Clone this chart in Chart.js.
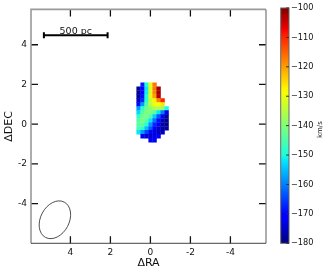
<!DOCTYPE html>
<html><head><meta charset="utf-8">
<script src="https://cdn.jsdelivr.net/npm/chart.js@4"></script>
<style>
html,body{margin:0;padding:0;background:#fff;width:330px;height:274px;overflow:hidden}
canvas{position:absolute}
</style></head><body>
<canvas id="m" width="275" height="274" style="left:0;top:0;width:275px;height:274px"></canvas>
<canvas id="c" width="55" height="274" style="left:275px;top:0;width:55px;height:274px"></canvas>
<script>
const xTicks=[4,2,0,-2,-4];
const yTicks=[4,2,0,-2,-4];
const cbTicks=[-100,-110,-120,-130,-140,-150,-160,-170,-180];
const colX=[0.59,0.39,0.19,-0.01,-0.21,-0.41,-0.61,-0.81];
const rowY=[1.99,1.79,1.59,1.39,1.19,0.99,0.79,0.59,0.39,0.19,-0.01,-0.21,-0.41,-0.61,-0.81];
const vel=[
[null,-168,-150,-130,-117,null,null,null],
[-178,-170,-152,-131,-117,-102,null,null],
[-178,-170,-151,-131,-118,-102,null,null],
[-178,-169,-150,-131,-120,-103,null,null],
[-176,-167,-149,-133,-127,-118,-110,null],
[-170,-158,-145,-135,-130,-129,-126,null],
[-158,-149,-142,-139,-136,-136,-138,-150],
[-153,-144,-141,-140,-144,-152,-160,-172],
[-148,-142,-141,-145,-154,-163,-172,-178],
[-145,-141,-144,-152,-161,-169,-175,-179],
[-144,-143,-149,-158,-167,-172,-177,-179],
[-146,-148,-155,-163,-170,-175,-177,-178],
[-152,-158,-165,-170,-173,-175,-176,null],
[null,-172,-174,-174,-173,-172,null,null],
[null,null,null,-172,-172,null,null,null]];
const beam={x:4.775,y:-4.815,major:1.0,minor:0.715,tilt:28};
const scaleBar={x:[5.325,2.14],y:4.48,label:'500 pc'};
const stops=[[0,'#000080'],[0.11,'#0000ff'],[0.125,'#0000ff'],[0.34,'#00dbff'],[0.375,'#19ffde'],[0.64,'#f7ff00'],[0.66,'#fff400'],[0.89,'#ff1700'],[0.91,'#f20000'],[1,'#800000']];
function hex(h){return [1,3,5].map(i=>parseInt(h.substr(i,2),16));}
function col(v){const t=(v+180)/80;for(let i=1;i<stops.length;i++){if(t<=stops[i][0]){const a=stops[i-1],b=stops[i],f=(t-a[0])/(b[0]-a[0]),A=hex(a[1]),B=hex(b[1]);return `rgb(${A.map((q,k)=>Math.round(q+(B[k]-q)*f)).join(',')})`;}}return stops[stops.length-1][1];}
const pts=[],cols=[];
vel.forEach((r,j)=>r.forEach((v,i)=>{if(v!==null){pts.push({x:colX[i],y:rowY[j]});cols.push(col(v));}}));
const FONT='"DejaVu Sans"';
const over={id:'over',afterDatasetsDraw(ch){
 const g=ch.ctx,X=ch.scales.x,Y=ch.scales.y,a=ch.chartArea;
 g.save();
 g.strokeStyle='#111';g.lineWidth=1.3;
 g.beginPath();
 xTicks.forEach(t=>{const p=X.getPixelForValue(t);g.moveTo(p,a.top);g.lineTo(p,a.top+7);g.moveTo(p,a.bottom);g.lineTo(p,a.bottom-7);});
 yTicks.forEach(t=>{const p=Y.getPixelForValue(t);g.moveTo(a.left,p);g.lineTo(a.left+7,p);g.moveTo(a.right,p);g.lineTo(a.right-7,p);});
 g.stroke();
 g.lineWidth=0.8;g.strokeStyle='#222';g.beginPath();
 const sx=(a.right-a.left)/(X.max-X.min);
 g.ellipse(X.getPixelForValue(beam.x),Y.getPixelForValue(beam.y),beam.minor*sx,beam.major*sx,beam.tilt*Math.PI/180,0,2*Math.PI);g.stroke();
 g.fillStyle='#111';g.font='9.5px '+FONT;g.textAlign='center';g.textBaseline='alphabetic';
 g.fillText(scaleBar.label,X.getPixelForValue((scaleBar.x[0]+scaleBar.x[1])/2),Y.getPixelForValue(scaleBar.y)-1);
 g.strokeStyle='#999';g.lineWidth=1.6;g.beginPath();
 g.moveTo(a.left,a.bottom);g.lineTo(a.left,a.top);g.lineTo(a.right,a.top);g.stroke();
 g.strokeStyle='#777';g.lineWidth=1.2;g.beginPath();g.moveTo(a.right,a.top);g.lineTo(a.right,a.bottom);g.stroke();
 g.strokeStyle='#444';g.lineWidth=1;g.beginPath();g.moveTo(a.left,a.bottom);g.lineTo(a.right,a.bottom);g.stroke();
 g.restore();
}};
new Chart(document.getElementById('m'),{type:'scatter',
 data:{datasets:[
  {data:pts,pointStyle:'rect',pointRadius:3.1,pointBorderWidth:0,pointBackgroundColor:cols,pointHoverRadius:3.1,showLine:false},
  {data:[{x:scaleBar.x[0],y:scaleBar.y},{x:scaleBar.x[1],y:scaleBar.y}],showLine:true,borderColor:'#000',borderWidth:2,pointStyle:'line',pointRotation:90,pointRadius:3,pointBorderColor:'#000',pointBorderWidth:2}
 ]},
 plugins:[over],
 options:{responsive:false,animation:false,events:[],
  layout:{padding:{left:0,right:9,top:0,bottom:0}},
  plugins:{legend:{display:false},tooltip:{enabled:false}},
  scales:{
   x:{type:'linear',reverse:true,min:-5.78,max:5.97,afterFit(s){s.height=30.7;s.paddingLeft=0;s.paddingRight=0;},
    afterBuildTicks(s){s.ticks=xTicks.map(v=>({value:v}));},
    grid:{display:false,drawTicks:false},border:{display:false},
    ticks:{color:'#111',font:{family:FONT,size:9},padding:3.5,maxRotation:0,autoSkip:false,callback:v=>String(v)},
    title:{display:true,text:'ΔRA',color:'#111',font:{family:FONT,size:11},padding:{top:1,bottom:4}}},
   y:{type:'linear',min:-6,max:5.78,afterFit(s){s.width=31;},
    afterBuildTicks(s){s.ticks=yTicks.map(v=>({value:v}));},
    grid:{display:false,drawTicks:false},border:{display:false},
    ticks:{color:'#111',font:{family:FONT,size:9},padding:4,autoSkip:false,callback:v=>String(v)},
    title:{display:true,text:'ΔDEC',color:'#111',font:{family:FONT,size:11},padding:{top:3,bottom:1}}}
  }}});
const cbLabels=['cb'];
const cbRange=[[-180,-100]];
const cbTitle='km/s';
const barFill={id:'barFill',beforeDatasetsDraw(ch){
 const Y=ch.scales.y,g=ch.ctx.createLinearGradient(0,Y.getPixelForValue(-180),0,Y.getPixelForValue(-100));
 stops.forEach(s=>g.addColorStop(s[0],s[1]));
 ch.getDatasetMeta(0).data.forEach(e=>{e.options.backgroundColor=g;});
},afterDatasetsDraw(ch){
 const g=ch.ctx,Y=ch.scales.y,a=ch.chartArea;
 g.save();
 g.strokeStyle='#666';g.lineWidth=1;g.strokeRect(a.left,a.top,a.right-a.left,a.bottom-a.top);
 g.strokeStyle='#333';g.beginPath();
 cbTicks.forEach(t=>{const p=Y.getPixelForValue(t);g.moveTo(a.right-3,p);g.lineTo(a.right,p);});
 g.stroke();
 g.fillStyle='#111';g.font='7px '+FONT;g.textAlign='center';g.textBaseline='middle';
 g.translate(45.5,(a.top+a.bottom)/2+4);g.rotate(-Math.PI/2);g.fillText(cbTitle,0,0);
 g.restore();
}};
new Chart(document.getElementById('c'),{type:'bar',
 data:{labels:cbLabels,datasets:[{data:cbRange,backgroundColor:'#888',barPercentage:1,categoryPercentage:1,borderWidth:0}]},
 plugins:[barFill],
 options:{responsive:false,animation:false,events:[],
  layout:{padding:{left:5.7,right:0,top:8,bottom:30.7}},
  plugins:{legend:{display:false},tooltip:{enabled:false}},
  scales:{
   x:{display:false},
   y:{position:'right',min:-180,max:-100,afterFit(s){s.width=41;},
    afterBuildTicks(s){s.ticks=cbTicks.map(v=>({value:v}));},
    grid:{display:false,drawTicks:false},
    border:{display:false},
    ticks:{color:'#111',font:{family:FONT,size:8.2},padding:2,autoSkip:false,callback:v=>'\u2212'+Math.abs(v)}}
  }}});
</script></body></html>
